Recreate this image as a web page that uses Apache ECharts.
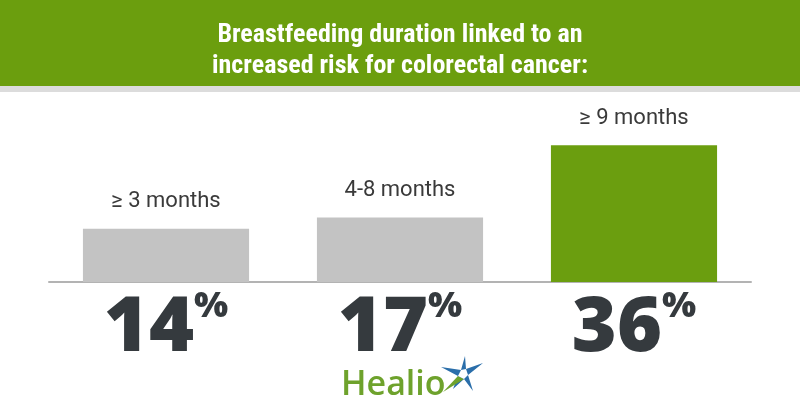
<!DOCTYPE html>
<html><head><meta charset="utf-8">
<script src="https://cdn.jsdelivr.net/npm/echarts@6/dist/echarts.min.js"></script>
<style>html,body{margin:0;padding:0;background:#fff}#c{width:800px;height:420px}</style>
</head><body><div id="c"></div>
<script>
var titleText = 'Breastfeeding duration linked to an\nincreased risk for colorectal cancer:';
var categories = ['≥ 3 months', '4-8 months', '≥ 9 months'];
var values = [14, 17, 36];
var barColors = ['#c3c3c3', '#c3c3c3', '#6b9e0f'];

var chart = echarts.init(document.getElementById('c'), null, {renderer: 'canvas'});
chart.setOption({
  animation: false,
  backgroundColor: '#ffffff',
  title: {
    text: titleText, left: 'center', top: 15,
    textStyle: {color: '#ffffff', fontFamily: '"Liberation Sans Narrow","Roboto Condensed","Roboto",sans-serif', fontWeight: 'bold', fontSize: 26, lineHeight: 31}
  },
  graphic: [
    {type: 'rect', z: -10, shape: {x: 0, y: 0, width: 800, height: 86}, style: {fill: '#6b9e0e'}},
    {type: 'rect', z: -10, shape: {x: 0, y: 86, width: 800, height: 6}, style: {fill: '#dcdcdc'}},
    {type: 'text', left: 341, top: 368, style: {text: 'Healio', fill: '#6ea22c', font: '600 34px "Open Sans", sans-serif'}},
    {type: 'group', x: 3, y: -1, children: [
      {type: 'polygon', shape: {points: [[462,357],[458,371],[438,368],[455,377],[450,390],[461,380],[470,392],[465,376],[480,364],[463,370]]}, style: {fill: '#2a6eaa'}},
      {type: 'polygon', shape: {points: [[455,377],[440,393],[461,380]]}, style: {fill: '#6ea22c'}},
      {type: 'polygon', shape: {points: [[458,371],[455,377],[461,380],[465,376],[463,370]]}, style: {fill: '#ffffff'}}
    ]}
  ],
  grid: {left: 49, right: 49, top: 130, bottom: 138},
  xAxis: {
    type: 'category', data: categories,
    axisTick: {show: false},
    axisLine: {show: true, lineStyle: {color: '#b3b3b3', width: 2}},
    axisLabel: {
      margin: 7,
      formatter: function (v, i) { return '{num|' + values[i] + '}{pct|%}'; },
      rich: {
        num: {fontFamily: '"Open Sans", sans-serif', fontWeight: 800, fontSize: 77, color: '#353a3e', lineHeight: 80},
        pct: {fontFamily: '"Open Sans", sans-serif', fontWeight: 800, fontSize: 36, color: '#353a3e', verticalAlign: 'top', lineHeight: 80}
      }
    }
  },
  yAxis: {type: 'value', min: 0, max: 40, show: false, splitLine: {show: false}},
  series: [{
    type: 'bar', barCategoryGap: '29%',
    data: values.map(function (v, i) { return {value: v, itemStyle: {color: barColors[i]}}; }),
    label: {
      show: true, position: 'top', distance: 16,
      formatter: function (p) { return categories[p.dataIndex]; },
      fontFamily: 'Roboto, sans-serif', fontSize: 22, color: '#3a3a3a'
    }
  }]
});
</script></body></html>
